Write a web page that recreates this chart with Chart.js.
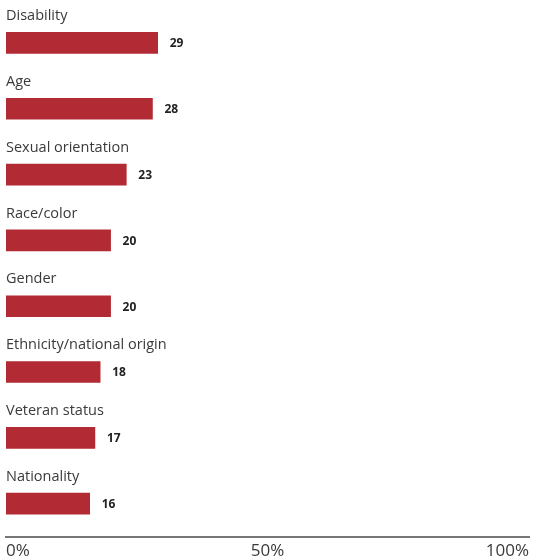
<!DOCTYPE html>
<html>
<head>
<meta charset="utf-8">
<script src="https://cdn.jsdelivr.net/npm/chart.js@4"></script>
<style>
  html, body { margin: 0; padding: 0; background: #fff; overflow: hidden; }
  canvas { display: block; }
</style>
</head>
<body>
<canvas id="barChart" width="533" height="560"></canvas>
<script>
/* ── data ── */
const categories = [
  'Disability',
  'Age',
  'Sexual orientation',
  'Race/color',
  'Gender',
  'Ethnicity/national origin',
  'Veteran status',
  'Nationality',
];
const values = [29, 28, 23, 20, 20, 18, 17, 16];
const tickValues = [0, 50, 100];

const FONT = '"Open Sans", "Noto Sans", sans-serif';

/* ── labels above bars + values to the right ── */
const barLabels = {
  id: 'barLabels',
  afterDatasetsDraw(chart) {
    const ctx = chart.ctx;
    const meta = chart.getDatasetMeta(0);
    ctx.save();
    meta.data.forEach((bar, i) => {
      ctx.textBaseline = 'middle';
      ctx.textAlign = 'left';
      ctx.fillStyle = '#3a3a3a';
      ctx.font = '14.5px ' + FONT;
      ctx.fillText(categories[i], chart.chartArea.left, bar.y - 27);
      ctx.fillStyle = '#222';
      ctx.font = 'bold 12px ' + FONT;
      ctx.fillText(values[i], bar.x + 12, bar.y + 1);
    });
    ctx.restore();
  },
};

const ctx = document.getElementById('barChart').getContext('2d');
new Chart(ctx, {
  type: 'bar',
  data: {
    labels: categories,
    datasets: [{
      data: values,
      backgroundColor: '#b22a33',
      barThickness: 21,
      borderWidth: 0,
    }],
  },
  options: {
    indexAxis: 'y',
    responsive: false,
    animation: false,
    layout: { padding: { top: 10, left: 6, right: 0, bottom: -5 } },
    plugins: {
      legend: { display: false },
      tooltip: { enabled: false },
    },
    scales: {
      y: { display: false },
      x: {
        min: 0,
        max: 100,
        afterBuildTicks: axis => { axis.ticks = tickValues.map(v => ({ value: v })); },
        grid: { display: false, drawTicks: false },
        border: { display: true, color: '#777', width: 2 },
        ticks: {
          align: 'inner',
          padding: 4,
          color: '#3a3a3a',
          font: { family: FONT, size: 17 },
          maxRotation: 0,
          callback: v => v + '%',
        },
      },
    },
  },
  plugins: [barLabels],
});
</script>
</body>
</html>
